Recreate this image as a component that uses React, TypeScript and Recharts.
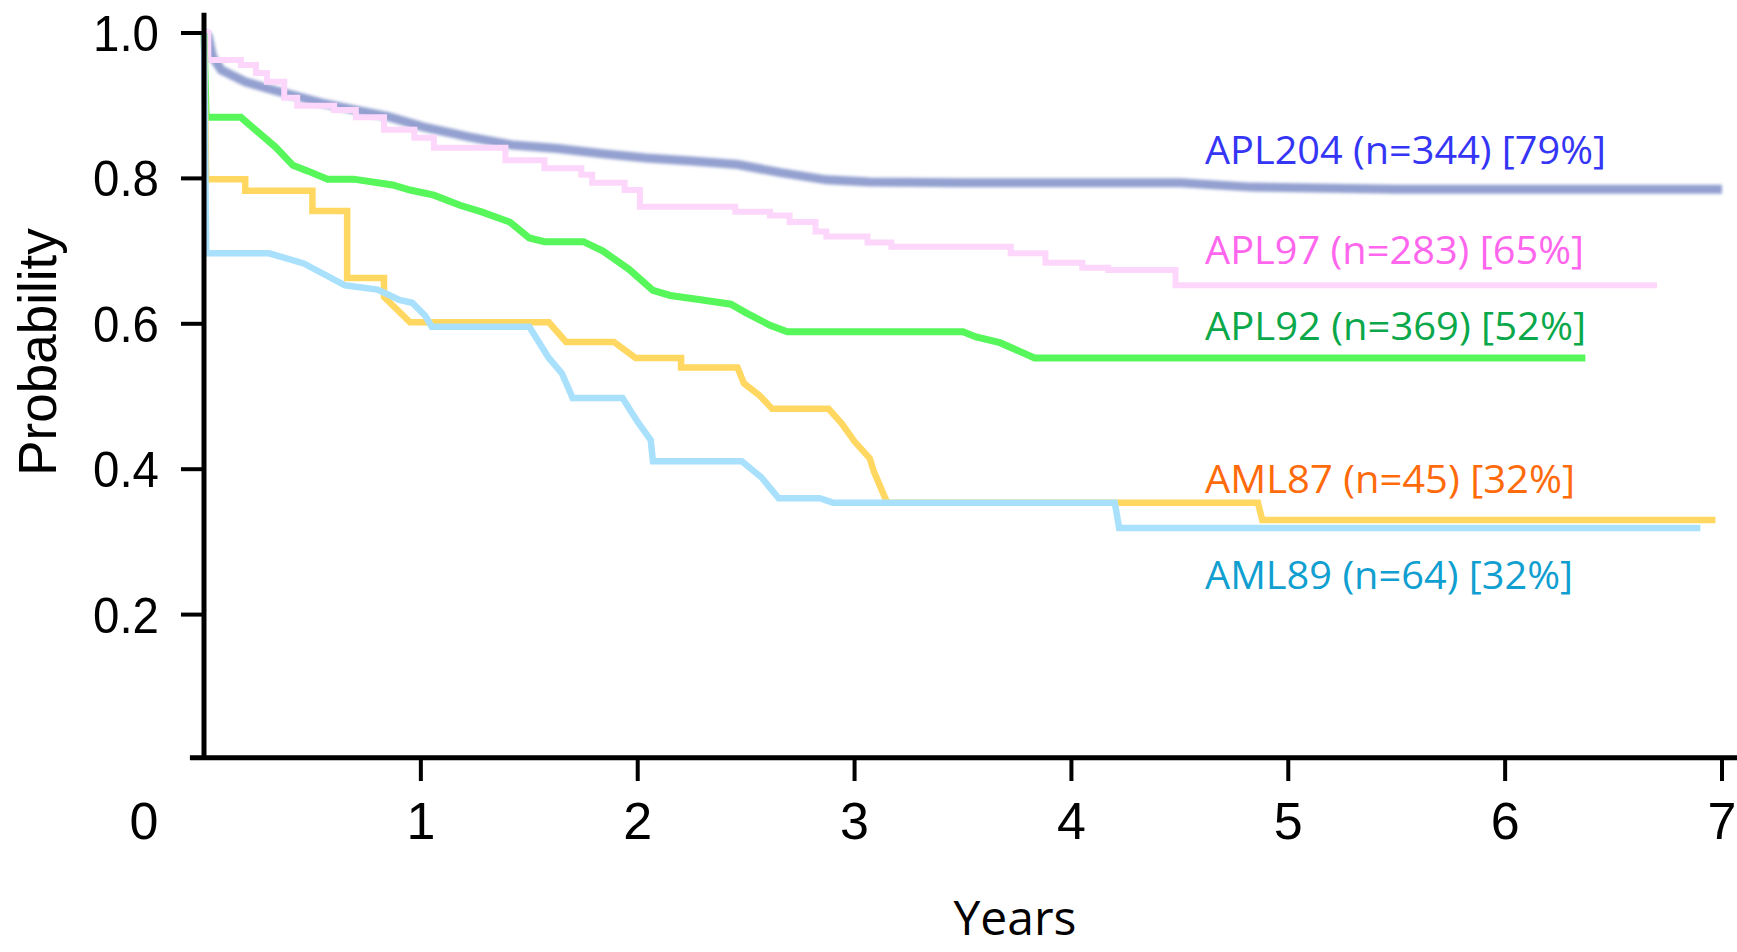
import React from "react";
import { LineChart, Line, XAxis, YAxis, ReferenceLine } from "recharts";

// survival estimates: [years, probability]
const apl204: [number, number][] = [
    [0, 1.0], [0.02, 0.995], [0.04, 0.967], [0.08, 0.949], [0.19, 0.933], [0.29, 0.924],
    [0.39, 0.916], [0.54, 0.904], [0.7, 0.894], [0.85, 0.885], [1.01, 0.871], [1.22, 0.857],
    [1.42, 0.846], [1.63, 0.841], [1.84, 0.834], [2.04, 0.828], [2.25, 0.824], [2.46, 0.819],
    [2.66, 0.808], [2.87, 0.798], [3.07, 0.795], [3.5, 0.794], [4.5, 0.794], [4.83, 0.788],
    [5.5, 0.785], [7.0, 0.785],
];

const apl97: [number, number][] = [
    [0, 1.0], [0.02, 0.963], [0.17, 0.956], [0.24, 0.945], [0.29, 0.933], [0.37, 0.911],
    [0.43, 0.9], [0.6, 0.894], [0.7, 0.884], [0.83, 0.867], [0.97, 0.856], [1.06, 0.842],
    [1.39, 0.825], [1.57, 0.814], [1.74, 0.805], [1.79, 0.794], [1.94, 0.784], [2.01, 0.761],
    [2.45, 0.754], [2.61, 0.749], [2.7, 0.74], [2.82, 0.727], [2.87, 0.72], [3.06, 0.712],
    [3.17, 0.706], [3.72, 0.697], [3.88, 0.684], [4.05, 0.677], [4.17, 0.674], [4.48, 0.653],
    [6.7, 0.653],
];

const apl92: [number, number][] = [
    [0, 1.0], [0.01, 0.884], [0.17, 0.884], [0.33, 0.843], [0.41, 0.818], [0.48, 0.81],
    [0.57, 0.799], [0.69, 0.799], [0.87, 0.791], [0.95, 0.784], [1.06, 0.777], [1.18, 0.763],
    [1.28, 0.754], [1.41, 0.74], [1.5, 0.718], [1.57, 0.713], [1.75, 0.713], [1.84, 0.7],
    [1.96, 0.675], [2.07, 0.646], [2.15, 0.639], [2.29, 0.633], [2.43, 0.627], [2.5, 0.615],
    [2.61, 0.598], [2.69, 0.589], [3.5, 0.589], [3.56, 0.582], [3.67, 0.574], [3.83, 0.553],
    [6.37, 0.553],
];

const aml87: [number, number][] = [
    [0, 1.0], [0.01, 0.799], [0.19, 0.799], [0.19, 0.783], [0.5, 0.783], [0.5, 0.755],
    [0.66, 0.755], [0.66, 0.663], [0.83, 0.663], [0.83, 0.637], [0.95, 0.602], [1.59, 0.602],
    [1.67, 0.575], [1.89, 0.575], [1.99, 0.553], [2.2, 0.553], [2.2, 0.54], [2.46, 0.54],
    [2.49, 0.518], [2.56, 0.502], [2.62, 0.483], [2.88, 0.483], [2.94, 0.463], [3.0, 0.438],
    [3.07, 0.415], [3.09, 0.396], [3.15, 0.354], [4.86, 0.354], [4.88, 0.33], [6.97, 0.33],
];

const aml89: [number, number][] = [
    [0, 1.0], [0.01, 0.697], [0.3, 0.697], [0.46, 0.683], [0.65, 0.653], [0.8, 0.647],
    [0.9, 0.633], [0.96, 0.629], [1.02, 0.611], [1.05, 0.596], [1.5, 0.596], [1.59, 0.553],
    [1.65, 0.532], [1.7, 0.498], [1.93, 0.498], [2.0, 0.465], [2.06, 0.44], [2.07, 0.411],
    [2.48, 0.411], [2.57, 0.389], [2.65, 0.36], [2.84, 0.36], [2.9, 0.354], [4.2, 0.354],
    [4.22, 0.319], [6.9, 0.319],
];

const yearTicks = [0, 1, 2, 3, 4, 5, 6, 7];
const probTicks = [0.2, 0.4, 0.6, 0.8, 1.0];

const legendLabels = [
    { text: "APL204 (n=344) [79%]", color: "#3535f5" },
    { text: "APL97 (n=283) [65%]", color: "#ff66ee" },
    { text: "APL92 (n=369) [52%]", color: "#0aa84a" },
    { text: "AML87 (n=45) [32%]", color: "#ff6a0a" },
    { text: "AML89 (n=64) [32%]", color: "#109fd0" },
];

const toRows = (pts: [number, number][]) => pts.map(([t, p]) => ({ t, p }));

const tickFont = "'Liberation Sans', Arial, Helvetica, sans-serif";
const labelFont = "'Open Sans', 'Noto Sans', sans-serif";

const XTick = (props: any) => {
    const { x, y, payload } = props;
    const v = payload.value;
    if (v === 0) {
        return (
            <text x={x - 60} y={y + 79} textAnchor="middle" fontSize={52} fontFamily={tickFont} fill="#000">
                0
            </text>
        );
    }
    return (
        <g>
            <line x1={x} x2={x} y1={y - 2} y2={y + 21} stroke="#000" strokeWidth={4} />
            <text x={x} y={y + 79} textAnchor="middle" fontSize={52} fontFamily={tickFont} fill="#000">
                {v}
            </text>
        </g>
    );
};

const YTick = (props: any) => {
    const { x, y, payload } = props;
    return (
        <g>
            <line x1={x - 23} x2={x} y1={y} y2={y} stroke="#000" strokeWidth={4} />
            <text
                x={x - 111}
                y={y + 18}
                fontSize={50}
                fontFamily={tickFont}
                fill="#000"
                textLength={66}
                lengthAdjust="spacingAndGlyphs"
            >
                {payload.value.toFixed(1)}
            </text>
        </g>
    );
};

export default function App() {
    // legend baselines and widths as they sit in the figure
    const legendY = [164, 264, 340, 493, 589];
    const legendW = [401, 379, 381, 370, 368];

    return (
        <div style={{ position: "absolute", left: 0, top: 0, width: 1737, height: 952, background: "#fff" }}>
            <LineChart width={1737} height={952} margin={{ top: 33, right: 15, bottom: 112, left: 84 }}>
                <defs>
                    <filter id="soft" x="-5%" y="-50%" width="110%" height="200%">
                        <feGaussianBlur stdDeviation="1.8" />
                    </filter>
                </defs>
                <XAxis
                    dataKey="t"
                    type="number"
                    domain={[0, 7]}
                    ticks={yearTicks}
                    axisLine={false}
                    tickLine={false}
                    tickSize={0}
                    tickMargin={0}
                    height={80}
                    tick={(p: any) => <XTick {...p} />}
                    allowDuplicatedCategory={false}
                />
                <YAxis
                    type="number"
                    domain={[0, 1]}
                    ticks={probTicks}
                    axisLine={false}
                    tickLine={false}
                    tickSize={0}
                    tickMargin={0}
                    width={120}
                    tick={(p: any) => <YTick {...p} />}
                />
                <Line
                    data={toRows(apl204)}
                    dataKey="p"
                    type="linear"
                    stroke="#8796cb"
                    strokeWidth={9}
                    strokeOpacity={0.9}
                    filter="url(#soft)"
                    dot={false}
                    isAnimationActive={false}
                />
                <Line
                    data={toRows(apl97)}
                    dataKey="p"
                    type="stepAfter"
                    stroke="#fdd6fb"
                    strokeWidth={6}
                    dot={false}
                    isAnimationActive={false}
                />
                <Line
                    data={toRows(apl92)}
                    dataKey="p"
                    type="linear"
                    stroke="#57f75c"
                    strokeWidth={7}
                    dot={false}
                    isAnimationActive={false}
                />
                <Line
                    data={toRows(aml87)}
                    dataKey="p"
                    type="linear"
                    stroke="#ffd761"
                    strokeWidth={6.5}
                    dot={false}
                    isAnimationActive={false}
                />
                <Line
                    data={toRows(aml89)}
                    dataKey="p"
                    type="linear"
                    stroke="#a9e1fd"
                    strokeWidth={6.5}
                    dot={false}
                    isAnimationActive={false}
                />
                <ReferenceLine
                    segment={[{ x: 0, y: 0 }, { x: 0, y: 1.028 }]}
                    stroke="#000"
                    strokeWidth={5}
                    ifOverflow="visible"
                />
                <ReferenceLine
                    segment={[{ x: -0.065, y: 0.003 }, { x: 7.08, y: 0.003 }]}
                    stroke="#000"
                    strokeWidth={5}
                    ifOverflow="visible"
                />
            </LineChart>
            <svg
                width={1737}
                height={952}
                style={{ position: "absolute", left: 0, top: 0, pointerEvents: "none" }}
            >
                <text
                    transform="translate(56 352) rotate(-90)"
                    textAnchor="middle"
                    fontSize={53}
                    fontFamily={tickFont}
                    fill="#000"
                >
                    Probability
                </text>
                <text x={1015} y={935} textAnchor="middle" fontSize={48} fontFamily={labelFont} fill="#000">
                    Years
                </text>
                {legendLabels.map((l, i) => (
                    <text
                        key={l.text}
                        x={1205}
                        y={legendY[i]}
                        fontSize={38}
                        fontFamily={labelFont}
                        fill={l.color}
                        textLength={legendW[i]}
                        lengthAdjust="spacingAndGlyphs"
                    >
                        {l.text}
                    </text>
                ))}
            </svg>
        </div>
    );
}
